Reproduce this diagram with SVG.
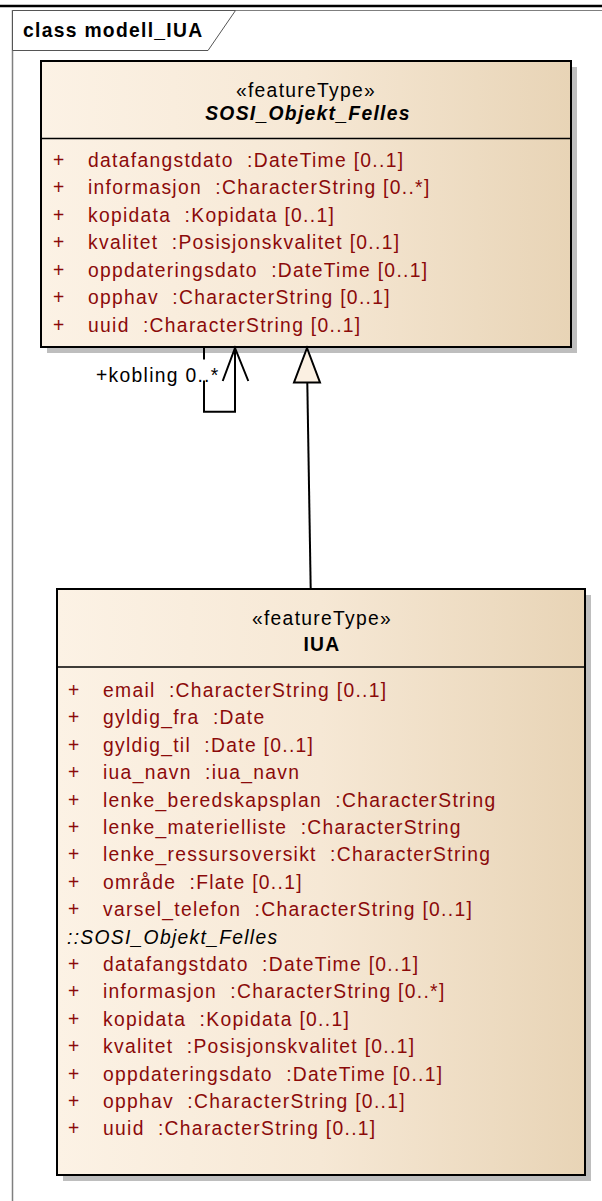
<svg xmlns="http://www.w3.org/2000/svg" width="602" height="1201" viewBox="0 0 602 1201">
<defs>
<linearGradient id="fill" x1="0" y1="0" x2="1" y2="0">
<stop offset="0" stop-color="#FCF2E5"/>
<stop offset="0.5" stop-color="#F6E8D5"/>
<stop offset="1" stop-color="#E8D4B6"/>
</linearGradient>
<style>
.t{font-family:"Liberation Sans",Arial,sans-serif;font-size:19.3px;letter-spacing:1.3px}
.a{fill:#8B0A0A}
.k{fill:#000}
.b{font-weight:bold}
.i{font-style:italic}
.m{text-anchor:middle}
.box{stroke:#000;stroke-width:2}
.sh{fill:#BEBEBE}
.sep{stroke:#000;stroke-width:1.3}
.ln{fill:none;stroke:#000;stroke-width:2}
</style>
</defs>
<rect x="0" y="0" width="602" height="1201" fill="#fff"/>
<g id="frame">
<line x1="0" y1="6" x2="602" y2="6" stroke="#000" stroke-width="2.5"/>
<line x1="12" y1="10.5" x2="602" y2="10.5" stroke="#7F7F7F" stroke-width="1.2"/>
<line x1="12.5" y1="10" x2="12.5" y2="1201" stroke="#7F7F7F" stroke-width="1.5"/>
<path d="M12.5 10.5 H235.5 L208 50.5 H12.5 Z" fill="#fff" stroke="#555" stroke-width="1"/>
<text class="t k b" x="23" y="37">class modell_IUA</text>
</g>
<g id="SOSI_Objekt_Felles">
<rect class="sh" x="47" y="67" width="530" height="286"/>
<rect class="box" x="41" y="61" width="530" height="286" fill="url(#fill)"/>
<line class="sep" x1="41" y1="138.5" x2="571" y2="138.5"/>
<text class="t k m" x="306" y="97">«featureType»</text>
<text class="t k m b i" x="308" y="120">SOSI_Objekt_Felles</text>
<g class="t a">
<text x="53" y="166.5">+</text><text x="88" y="166.5">datafangstdato&#160; :DateTime [0..1]</text>
<text x="53" y="194">+</text><text x="88" y="194">informasjon&#160; :CharacterString [0..*]</text>
<text x="53" y="221.5">+</text><text x="88" y="221.5">kopidata&#160; :Kopidata [0..1]</text>
<text x="53" y="249">+</text><text x="88" y="249">kvalitet&#160; :Posisjonskvalitet [0..1]</text>
<text x="53" y="276.5">+</text><text x="88" y="276.5">oppdateringsdato&#160; :DateTime [0..1]</text>
<text x="53" y="304">+</text><text x="88" y="304">opphav&#160; :CharacterString [0..1]</text>
<text x="53" y="331.5">+</text><text x="88" y="331.5">uuid&#160; :CharacterString [0..1]</text>
</g>
</g>
<g id="IUA">
<rect class="sh" x="63" y="595" width="528" height="586"/>
<rect class="box" x="57" y="589" width="528" height="586" fill="url(#fill)"/>
<line class="sep" x1="57" y1="667" x2="585" y2="667"/>
<text class="t k m" x="322" y="625">«featureType»</text>
<text class="t k m b" x="322" y="651">IUA</text>
<g class="t a">
<text x="68" y="697">+</text><text x="103" y="697">email&#160; :CharacterString [0..1]</text>
<text x="68" y="724.4">+</text><text x="103" y="724.4">gyldig_fra&#160; :Date</text>
<text x="68" y="751.8">+</text><text x="103" y="751.8">gyldig_til&#160; :Date [0..1]</text>
<text x="68" y="779.2">+</text><text x="103" y="779.2">iua_navn&#160; :iua_navn</text>
<text x="68" y="806.6">+</text><text x="103" y="806.6">lenke_beredskapsplan&#160; :CharacterString</text>
<text x="68" y="834">+</text><text x="103" y="834">lenke_materielliste&#160; :CharacterString</text>
<text x="68" y="861.4">+</text><text x="103" y="861.4">lenke_ressursoversikt&#160; :CharacterString</text>
<text x="68" y="888.8">+</text><text x="103" y="888.8">område&#160; :Flate [0..1]</text>
<text x="68" y="916.2">+</text><text x="103" y="916.2">varsel_telefon&#160; :CharacterString [0..1]</text>
</g>
<text class="t k i" x="67" y="943.6">::SOSI_Objekt_Felles</text>
<g class="t a">
<text x="68" y="971">+</text><text x="103" y="971">datafangstdato&#160; :DateTime [0..1]</text>
<text x="68" y="998.4">+</text><text x="103" y="998.4">informasjon&#160; :CharacterString [0..*]</text>
<text x="68" y="1025.8">+</text><text x="103" y="1025.8">kopidata&#160; :Kopidata [0..1]</text>
<text x="68" y="1053.2">+</text><text x="103" y="1053.2">kvalitet&#160; :Posisjonskvalitet [0..1]</text>
<text x="68" y="1080.6">+</text><text x="103" y="1080.6">oppdateringsdato&#160; :DateTime [0..1]</text>
<text x="68" y="1108">+</text><text x="103" y="1108">opphav&#160; :CharacterString [0..1]</text>
<text x="68" y="1135.4">+</text><text x="103" y="1135.4">uuid&#160; :CharacterString [0..1]</text>
</g>
</g>
<g id="connectors">
<line class="ln" x1="310.7" y1="589" x2="307.3" y2="382.5"/>
<path d="M307 348 L294 382.5 H320 Z" fill="#FBF0E2" stroke="#000" stroke-width="2"/>
<path class="ln" d="M204 348 V359.5"/>
<path class="ln" d="M204 380.5 V411.7 H235 V348"/>
<path class="ln" d="M222.7 381 L235 348 L248.3 381"/>
<text class="t k" x="96" y="381.5">+kobling 0..*</text>
</g>
</svg>
